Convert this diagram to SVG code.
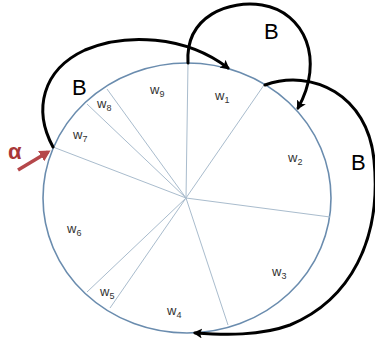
<svg xmlns="http://www.w3.org/2000/svg" width="375" height="344" viewBox="0 0 375 344">
<style>
.sp{stroke:#a9bccd;stroke-width:1;fill:none}
.arc{stroke:#000;stroke-width:3;fill:none;stroke-linecap:round}
.w{font-family:"Liberation Sans",Arial,sans-serif;font-size:13px;fill:#333}
.s{font-size:9px}
.B{font-family:"Liberation Sans",Arial,sans-serif;font-size:22px;fill:#000}
</style>
<defs>
<marker id="ah" markerWidth="10" markerHeight="10" refX="7" refY="5" orient="auto" markerUnits="userSpaceOnUse">
<path d="M0,0 L9,5 L0,10 L2,5 Z" fill="#000"/>
</marker>
<marker id="ahr" markerWidth="12" markerHeight="12" refX="8" refY="6" orient="auto" markerUnits="userSpaceOnUse">
<path d="M0,0 L11,6 L0,12 Z" fill="#b5474a"/>
</marker>
</defs>
<rect width="375" height="344" fill="#fff"/>
<g id="wheel">
<ellipse cx="187" cy="198" rx="144" ry="135" fill="none" stroke="#6a8cae" stroke-width="1.6"/>
<line class="sp" x1="186" y1="198" x2="188" y2="63"/>
<line class="sp" x1="186" y1="198" x2="264" y2="85"/>
<line class="sp" x1="186" y1="198" x2="330" y2="217"/>
<line class="sp" x1="186" y1="198" x2="228" y2="325"/>
<line class="sp" x1="186" y1="198" x2="110" y2="308"/>
<line class="sp" x1="186" y1="198" x2="87" y2="292"/>
<line class="sp" x1="186" y1="198" x2="53" y2="147"/>
<line class="sp" x1="186" y1="198" x2="87" y2="104"/>
<line class="sp" x1="186" y1="198" x2="107" y2="89"/>
</g>
<g id="w1"><text class="w" x="215" y="100">w<tspan class="s" dy="3">1</tspan></text></g>
<g id="w2"><text class="w" x="288" y="162">w<tspan class="s" dy="3">2</tspan></text></g>
<g id="w3"><text class="w" x="272" y="276">w<tspan class="s" dy="3">3</tspan></text></g>
<g id="w4"><text class="w" x="167" y="315">w<tspan class="s" dy="3">4</tspan></text></g>
<g id="w5"><text class="w" x="100" y="296">w<tspan class="s" dy="3">5</tspan></text></g>
<g id="w6"><text class="w" x="67" y="233">w<tspan class="s" dy="3">6</tspan></text></g>
<g id="w7"><text class="w" x="73" y="139">w<tspan class="s" dy="3">7</tspan></text></g>
<g id="w8"><text class="w" x="97" y="108">w<tspan class="s" dy="3">8</tspan></text></g>
<g id="w9"><text class="w" x="150" y="94">w<tspan class="s" dy="3">9</tspan></text></g>
<g id="connectors">
<path class="arc" d="M53,147 C33,110 42,70 85,50 C125,33 185,35 228,68" marker-end="url(#ah)"/>
<path class="arc" d="M188,63 C185,15 230,0 262,5 C305,12 325,60 298,108" marker-end="url(#ah)"/>
<path class="arc" d="M265,85 C312,68 368,95 374,160 C382,240 350,300 290,325 C260,336 225,335 195,333" marker-end="url(#ah)"/>
<line x1="18" y1="170" x2="48" y2="152" stroke="#b5474a" stroke-width="3.5" marker-end="url(#ahr)"/>
</g>
<g id="labels">
<text class="B" x="72" y="95">B</text>
<text class="B" x="264" y="39">B</text>
<text class="B" x="351" y="170">B</text>
<text x="8" y="159" font-family="Liberation Sans,Arial,sans-serif" font-size="22" font-weight="bold" fill="#a83838">α</text>
</g>
</svg>
